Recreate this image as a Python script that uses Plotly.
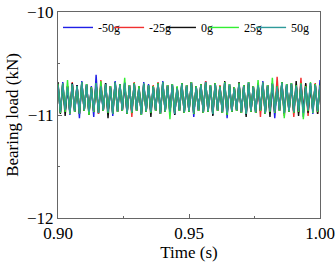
import numpy as np
import plotly.graph_objects as go

labels = ["-50g", "-25g", "0g", "25g", "50g"]
colors = ["#1f1fe6", "#f03030", "#111111", "#33ee33", "#2e9a9a"]

peaks_m50 = [-10.70,-10.68,-10.72,-10.69,-10.71,-10.67,-10.70,-10.72,-10.61,-10.71,
 -10.69,-10.72,-10.67,-10.70,-10.68,-10.71,-10.69,-10.73,-10.68,-10.70,
 -10.72,-10.69,-10.67,-10.71,-10.70,-10.73,-10.69,-10.71,-10.68,-10.72,
 -10.70,-10.67,-10.71,-10.69,-10.72,-10.68,-10.70,-10.73,-10.69,-10.71,
 -10.68,-10.72,-10.70,-10.67,-10.71,-10.69,-10.72,-10.68,-10.70,-10.69,
 -10.71,-10.68,-10.72,-10.69,-10.70,-10.66]
troughs_m50 = [-10.98,-10.97,-11.00,-10.97,-11.03,-10.96,-10.98,-11.02,-10.99,-10.96,
 -10.98,-11.01,-10.97,-10.96,-10.99,-10.98,-10.96,-11.00,-10.97,-10.98,
 -10.96,-10.99,-10.97,-10.98,-11.00,-10.96,-10.98,-10.97,-11.02,-10.96,
 -10.98,-10.97,-11.00,-10.96,-10.98,-11.03,-10.97,-10.96,-10.98,-11.00,
 -10.97,-10.98,-10.96,-10.99,-10.97,-11.03,-10.96,-10.99,-10.97,-10.98,
 -10.97,-11.02,-10.96,-10.99,-10.97]

peaks_m25 = [-10.71,-10.69,-10.72,-10.68,-10.72,-10.69,-10.71,-10.73,-10.70,-10.66,
 -10.70,-10.72,-10.69,-10.71,-10.70,-10.71,-10.68,-10.73,-10.70,-10.72,
 -10.71,-10.68,-10.69,-10.71,-10.72,-10.73,-10.70,-10.71,-10.68,-10.72,
 -10.70,-10.67,-10.72,-10.69,-10.71,-10.70,-10.72,-10.73,-10.69,-10.71,
 -10.70,-10.72,-10.69,-10.68,-10.71,-10.70,-10.63,-10.69,-10.72,-10.70,
 -10.71,-10.64,-10.70,-10.72,-10.69,-10.71]
troughs_m25 = [-10.98,-10.96,-10.99,-10.97,-10.98,-10.96,-10.98,-10.97,-10.99,-10.96,
 -10.98,-10.99,-10.97,-10.96,-10.99,-11.02,-10.96,-10.99,-10.97,-10.98,
 -10.96,-10.99,-10.97,-10.98,-10.99,-10.96,-10.98,-10.97,-10.99,-10.96,
 -10.98,-10.97,-10.99,-10.96,-10.98,-10.99,-10.97,-10.96,-10.98,-10.99,
 -10.97,-10.98,-11.02,-10.99,-10.97,-10.98,-10.96,-11.01,-10.97,-11.02,
 -10.98,-10.97,-11.01,-10.96,-10.99]

peaks_0 = [-10.68,-10.70,-10.72,-10.69,-10.71,-10.68,-10.70,-10.73,-10.70,-10.71,
 -10.69,-10.72,-10.68,-10.70,-10.69,-10.71,-10.69,-10.72,-10.70,-10.71,
 -10.72,-10.69,-10.68,-10.71,-10.70,-10.73,-10.69,-10.71,-10.68,-10.72,
 -10.70,-10.68,-10.71,-10.69,-10.72,-10.67,-10.70,-10.73,-10.68,-10.71,
 -10.68,-10.72,-10.70,-10.69,-10.71,-10.69,-10.72,-10.68,-10.70,-10.69,
 -10.67,-10.71,-10.69,-10.72,-10.70,-10.71]
troughs_0 = [-10.99,-11.01,-10.98,-10.97,-10.99,-10.96,-11.00,-10.97,-10.98,-10.96,
 -11.03,-10.99,-10.97,-10.96,-10.99,-10.98,-10.96,-11.00,-10.97,-11.02,
 -10.96,-10.99,-10.97,-10.98,-11.00,-10.96,-10.98,-10.97,-10.99,-10.96,
 -10.98,-10.97,-11.01,-10.96,-10.98,-11.00,-10.97,-10.96,-10.98,-11.02,
 -10.97,-10.98,-10.96,-10.99,-11.02,-10.98,-10.96,-10.99,-10.97,-10.98,
 -11.01,-10.97,-10.98,-10.96,-10.99]

peaks_25 = [-10.70,-10.69,-10.66,-10.70,-10.72,-10.68,-10.70,-10.73,-10.69,-10.67,
 -10.70,-10.72,-10.69,-10.70,-10.64,-10.71,-10.69,-10.72,-10.70,-10.71,
 -10.72,-10.69,-10.68,-10.71,-10.70,-10.72,-10.69,-10.71,-10.68,-10.72,
 -10.70,-10.68,-10.71,-10.69,-10.72,-10.68,-10.70,-10.73,-10.69,-10.71,
 -10.68,-10.72,-10.66,-10.69,-10.71,-10.64,-10.72,-10.68,-10.70,-10.69,
 -10.71,-10.69,-10.72,-10.68,-10.70,-10.71]
troughs_25 = [-10.98,-10.97,-10.99,-10.97,-10.98,-10.96,-11.00,-10.97,-10.98,-10.96,
 -10.98,-10.99,-10.97,-10.96,-10.99,-10.98,-10.96,-11.00,-10.97,-10.98,
 -10.96,-10.99,-10.97,-11.04,-10.98,-10.96,-10.98,-10.97,-10.99,-10.96,
 -10.98,-10.97,-10.99,-10.96,-10.98,-11.00,-10.97,-10.96,-10.98,-10.99,
 -10.97,-10.98,-10.96,-10.99,-10.97,-10.98,-10.96,-11.03,-10.97,-10.98,
 -10.97,-11.04,-10.96,-10.98,-10.97]

peaks_50 = [-10.71,-10.69,-10.73,-10.70,-10.72,-10.68,-10.71,-10.74,-10.69,-10.72,
 -10.70,-10.73,-10.68,-10.71,-10.69,-10.72,-10.70,-10.74,-10.69,-10.71,
 -10.73,-10.70,-10.68,-10.72,-10.71,-10.74,-10.70,-10.72,-10.69,-10.73,
 -10.71,-10.68,-10.72,-10.70,-10.73,-10.69,-10.71,-10.74,-10.70,-10.72,
 -10.69,-10.73,-10.71,-10.68,-10.72,-10.70,-10.73,-10.69,-10.71,-10.70,
 -10.72,-10.70,-10.73,-10.69,-10.71,-10.72]
troughs_50 = [-10.97,-10.95,-10.98,-10.96,-10.99,-10.95,-10.97,-10.96,-10.98,-10.95,
 -10.97,-10.99,-10.96,-10.95,-10.98,-10.97,-10.95,-10.99,-10.96,-10.97,
 -10.95,-10.98,-10.96,-10.97,-10.99,-10.95,-10.97,-10.96,-10.98,-10.95,
 -10.97,-10.96,-10.99,-10.95,-10.97,-10.98,-10.96,-10.95,-10.97,-10.99,
 -10.96,-10.97,-10.95,-10.98,-10.96,-10.97,-10.95,-10.98,-10.96,-10.97,
 -10.96,-10.98,-10.95,-10.97,-10.96]

series = [(peaks_m50, troughs_m50), (peaks_m25, troughs_m25), (peaks_0, troughs_0),
          (peaks_25, troughs_25), (peaks_50, troughs_50)]

def interleave(p, t):
    out = []
    for i in range(len(t)):
        out.append(p[i]); out.append(t[i])
    out.append(p[len(t)])
    return out

n_points = 2 * len(troughs_50) + 1
time = np.linspace(0.90, 1.00, n_points)

font = "Liberation Serif"
axcol = "#666666"

fig = go.Figure()
legend_names = ["legend", "legend2", "legend3", "legend4", "legend5"]
legend_x = [0.0, 0.195, 0.393, 0.557, 0.737]
for name, col, (p, t), lg in zip(labels, colors, series, legend_names):
    fig.add_trace(go.Scatter(x=time, y=interleave(p, t), mode="lines", name=name,
                             line=dict(color=col, width=1.4), legend=lg))

legend_layouts = {}
for lg, lx in zip(legend_names, legend_x):
    legend_layouts[lg] = dict(x=lx, y=0.925, xanchor="left", yanchor="middle",
                              font=dict(family=font, size=12, color="black"),
                              itemwidth=30, bgcolor="rgba(0,0,0,0)", borderwidth=0)

fig.update_layout(
    width=336, height=270,
    margin=dict(l=58, r=16, t=12, b=52, autoexpand=False),
    paper_bgcolor="white", plot_bgcolor="white",
    font=dict(family=font, color="black", size=16),
    showlegend=True,
    xaxis=dict(range=[0.90, 1.00], tickvals=[0.90, 0.95, 1.00], tickformat=".2f",
               showline=True, mirror=True, linecolor=axcol, linewidth=1,
               ticks="inside", ticklen=4, tickcolor=axcol, showgrid=False, zeroline=False,
               minor=dict(tickvals=[0.925, 0.975], ticks="inside", ticklen=2, tickcolor=axcol),
               title=dict(text="Time (s)", font=dict(family=font, size=17), standoff=2),
               tickfont=dict(family=font, size=17)),
    yaxis=dict(range=[-12, -10], tickvals=[-12, -11, -10],
               showline=True, mirror=True, linecolor=axcol, linewidth=1,
               ticks="inside", ticklen=4, tickcolor=axcol, showgrid=False, zeroline=False,
               minor=dict(tickvals=[-11.5, -10.5], ticks="inside", ticklen=2, tickcolor=axcol),
               title=dict(text="Bearing load (kN)", font=dict(family=font, size=17), standoff=4),
               tickfont=dict(family=font, size=17)),
    **legend_layouts,
)
fig.write_html("out.html")
